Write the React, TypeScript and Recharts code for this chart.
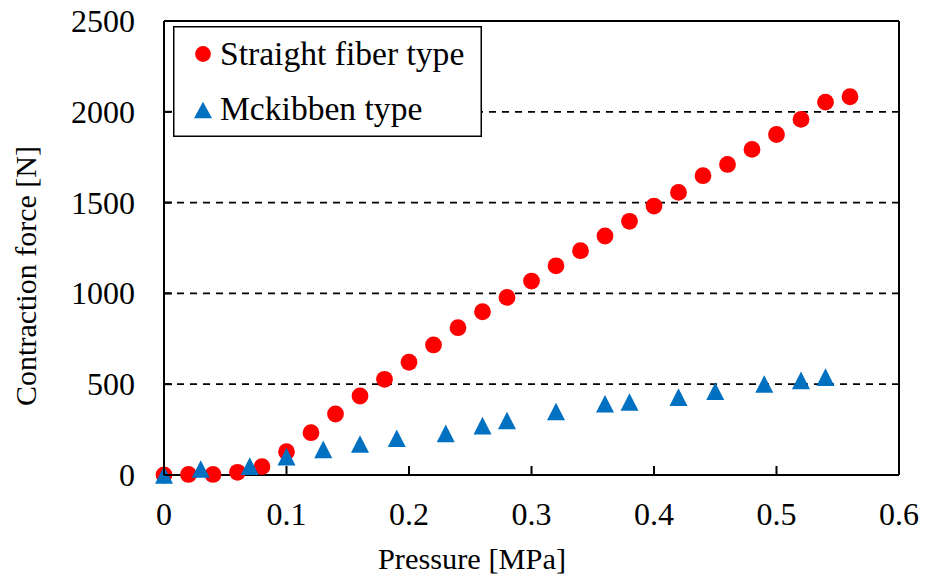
import {
  CartesianGrid,
  Legend,
  ReferenceLine,
  Scatter,
  ScatterChart,
  XAxis,
  YAxis,
} from 'recharts';

const FONT = '"Liberation Serif", "Times New Roman", serif';
const RED = '#ff0000';
const BLUE = '#0070c0';

// Straight fiber type: pressure [MPa] / contraction force [N]
const straightPressure = [
  0, 0.02, 0.04, 0.06, 0.08, 0.1, 0.12, 0.14, 0.16, 0.18, 0.2, 0.22, 0.24, 0.26, 0.28,
  0.3, 0.32, 0.34, 0.36, 0.38, 0.4, 0.42, 0.44, 0.46, 0.48, 0.5, 0.52, 0.54, 0.56,
];
const straightForce = [
  0, 3, 3, 15, 46, 128, 233, 336, 435, 527, 621, 716, 811, 899, 978,
  1068, 1152, 1235, 1316, 1397, 1481, 1556, 1648, 1710, 1793, 1875, 1958, 2053, 2083,
];

// Mckibben type
const mckibbenPressure = [
  0, 0.03, 0.07, 0.1, 0.13, 0.16, 0.19, 0.23, 0.26, 0.28, 0.32, 0.36, 0.38, 0.42, 0.45,
  0.49, 0.52, 0.54,
];
const mckibbenForce = [
  0, 33, 49, 101, 141, 171, 202, 229, 272, 300, 350, 392, 402, 429, 461, 501, 521, 539,
];

const xTicks = [0, 0.1, 0.2, 0.3, 0.4, 0.5, 0.6];
const yTicks = [0, 500, 1000, 1500, 2000, 2500];

const straightData = straightPressure.map((p, i) => ({ p, f: straightForce[i] }));
const mckibbenData = mckibbenPressure.map((p, i) => ({ p, f: mckibbenForce[i] }));

function XTick({ x, y, payload }: any) {
  return (
    <g>
      <line x1={x} x2={x} y1={y} y2={y - 9} stroke="#000" strokeWidth={2} />
      <text x={x} y={y + 50} textAnchor="middle" style={{ fontFamily: FONT }} fontSize={32} fill="#000">
        {String(payload.value)}
      </text>
    </g>
  );
}

function YTick({ x, y, payload }: any) {
  return (
    <g>
      <line x1={x} x2={x + 8} y1={y} y2={y} stroke="#000" strokeWidth={2} />
      <text x={x - 29} y={y + 11} textAnchor="end" style={{ fontFamily: FONT }} fontSize={32} fill="#000">
        {String(payload.value)}
      </text>
    </g>
  );
}

function Dot({ cx, cy }: any) {
  return <circle cx={cx} cy={cy} r={8.4} fill={RED} />;
}

function Tri({ cx, cy }: any) {
  return (
    <polygon
      points={`${cx},${cy - 8.8} ${cx + 9},${cy + 8.8} ${cx - 9},${cy + 8.8}`}
      fill={BLUE}
    />
  );
}

function LegendBox() {
  return (
    <svg width={309} height={111} style={{ display: 'block' }}>
      <rect x={0.75} y={0.75} width={307.5} height={109.5} fill="#fff" stroke="#000" strokeWidth={1.5} />
      <circle cx={30} cy={28} r={7.9} fill={RED} />
      <text x={47} y={39} style={{ fontFamily: FONT }} fontSize={33.6} fill="#000">
        Straight fiber type
      </text>
      <polygon points="30,75.7 39,92.3 21,92.3" fill={BLUE} />
      <text x={47} y={94} style={{ fontFamily: FONT }} fontSize={33.6} fill="#000">
        Mckibben type
      </text>
    </svg>
  );
}

export default function App() {
  return (
    <div style={{ position: 'absolute', left: 0, top: 0, background: '#fff' }}>
      <ScatterChart width={926} height={579} margin={{ top: 21, right: 27, bottom: 0, left: 0 }}>
        <CartesianGrid
          vertical={false}
          stroke="#000"
          strokeWidth={1.8}
          strokeDasharray="7 6"
        />
        <XAxis
          type="number"
          dataKey="p"
          domain={[0, 0.6]}
          ticks={xTicks}
          height={104}
          stroke="#000"
          strokeWidth={2}
          tickLine={false}
          tickSize={0}
          tickMargin={0}
          tick={<XTick />}
          interval={0}
          label={{
            content: () => (
              <text x={472} y={569} textAnchor="middle" style={{ fontFamily: FONT }} fontSize={30.4} fill="#000">
                Pressure [MPa]
              </text>
            ),
          }}
        />
        <YAxis
          type="number"
          dataKey="f"
          domain={[0, 2500]}
          ticks={yTicks}
          width={164}
          stroke="#000"
          strokeWidth={2}
          tickLine={false}
          tickSize={0}
          tickMargin={0}
          tick={<YTick />}
          interval={0}
          label={{
            content: () => (
              <text
                transform="translate(36,276) rotate(-90)"
                textAnchor="middle"
                style={{ fontFamily: FONT }}
                fontSize={30}
                fill="#000"
              >
                Contraction force [N]
              </text>
            ),
          }}
        />
        <ReferenceLine y={2500} stroke="#000" strokeWidth={2} />
        <ReferenceLine x={0.6} stroke="#000" strokeWidth={2} />
        <Scatter
          name="Straight fiber type"
          data={straightData}
          shape={<Dot />}
          isAnimationActive={false}
        />
        <Scatter
          name="Mckibben type"
          data={mckibbenData}
          shape={<Tri />}
          isAnimationActive={false}
        />
        <Legend
          layout="horizontal"
          verticalAlign="middle"
          align="center"
          content={() => <LegendBox />}
          wrapperStyle={{ position: 'absolute', left: 173, top: 26, width: 309, height: 111 }}
        />
      </ScatterChart>
    </div>
  );
}
